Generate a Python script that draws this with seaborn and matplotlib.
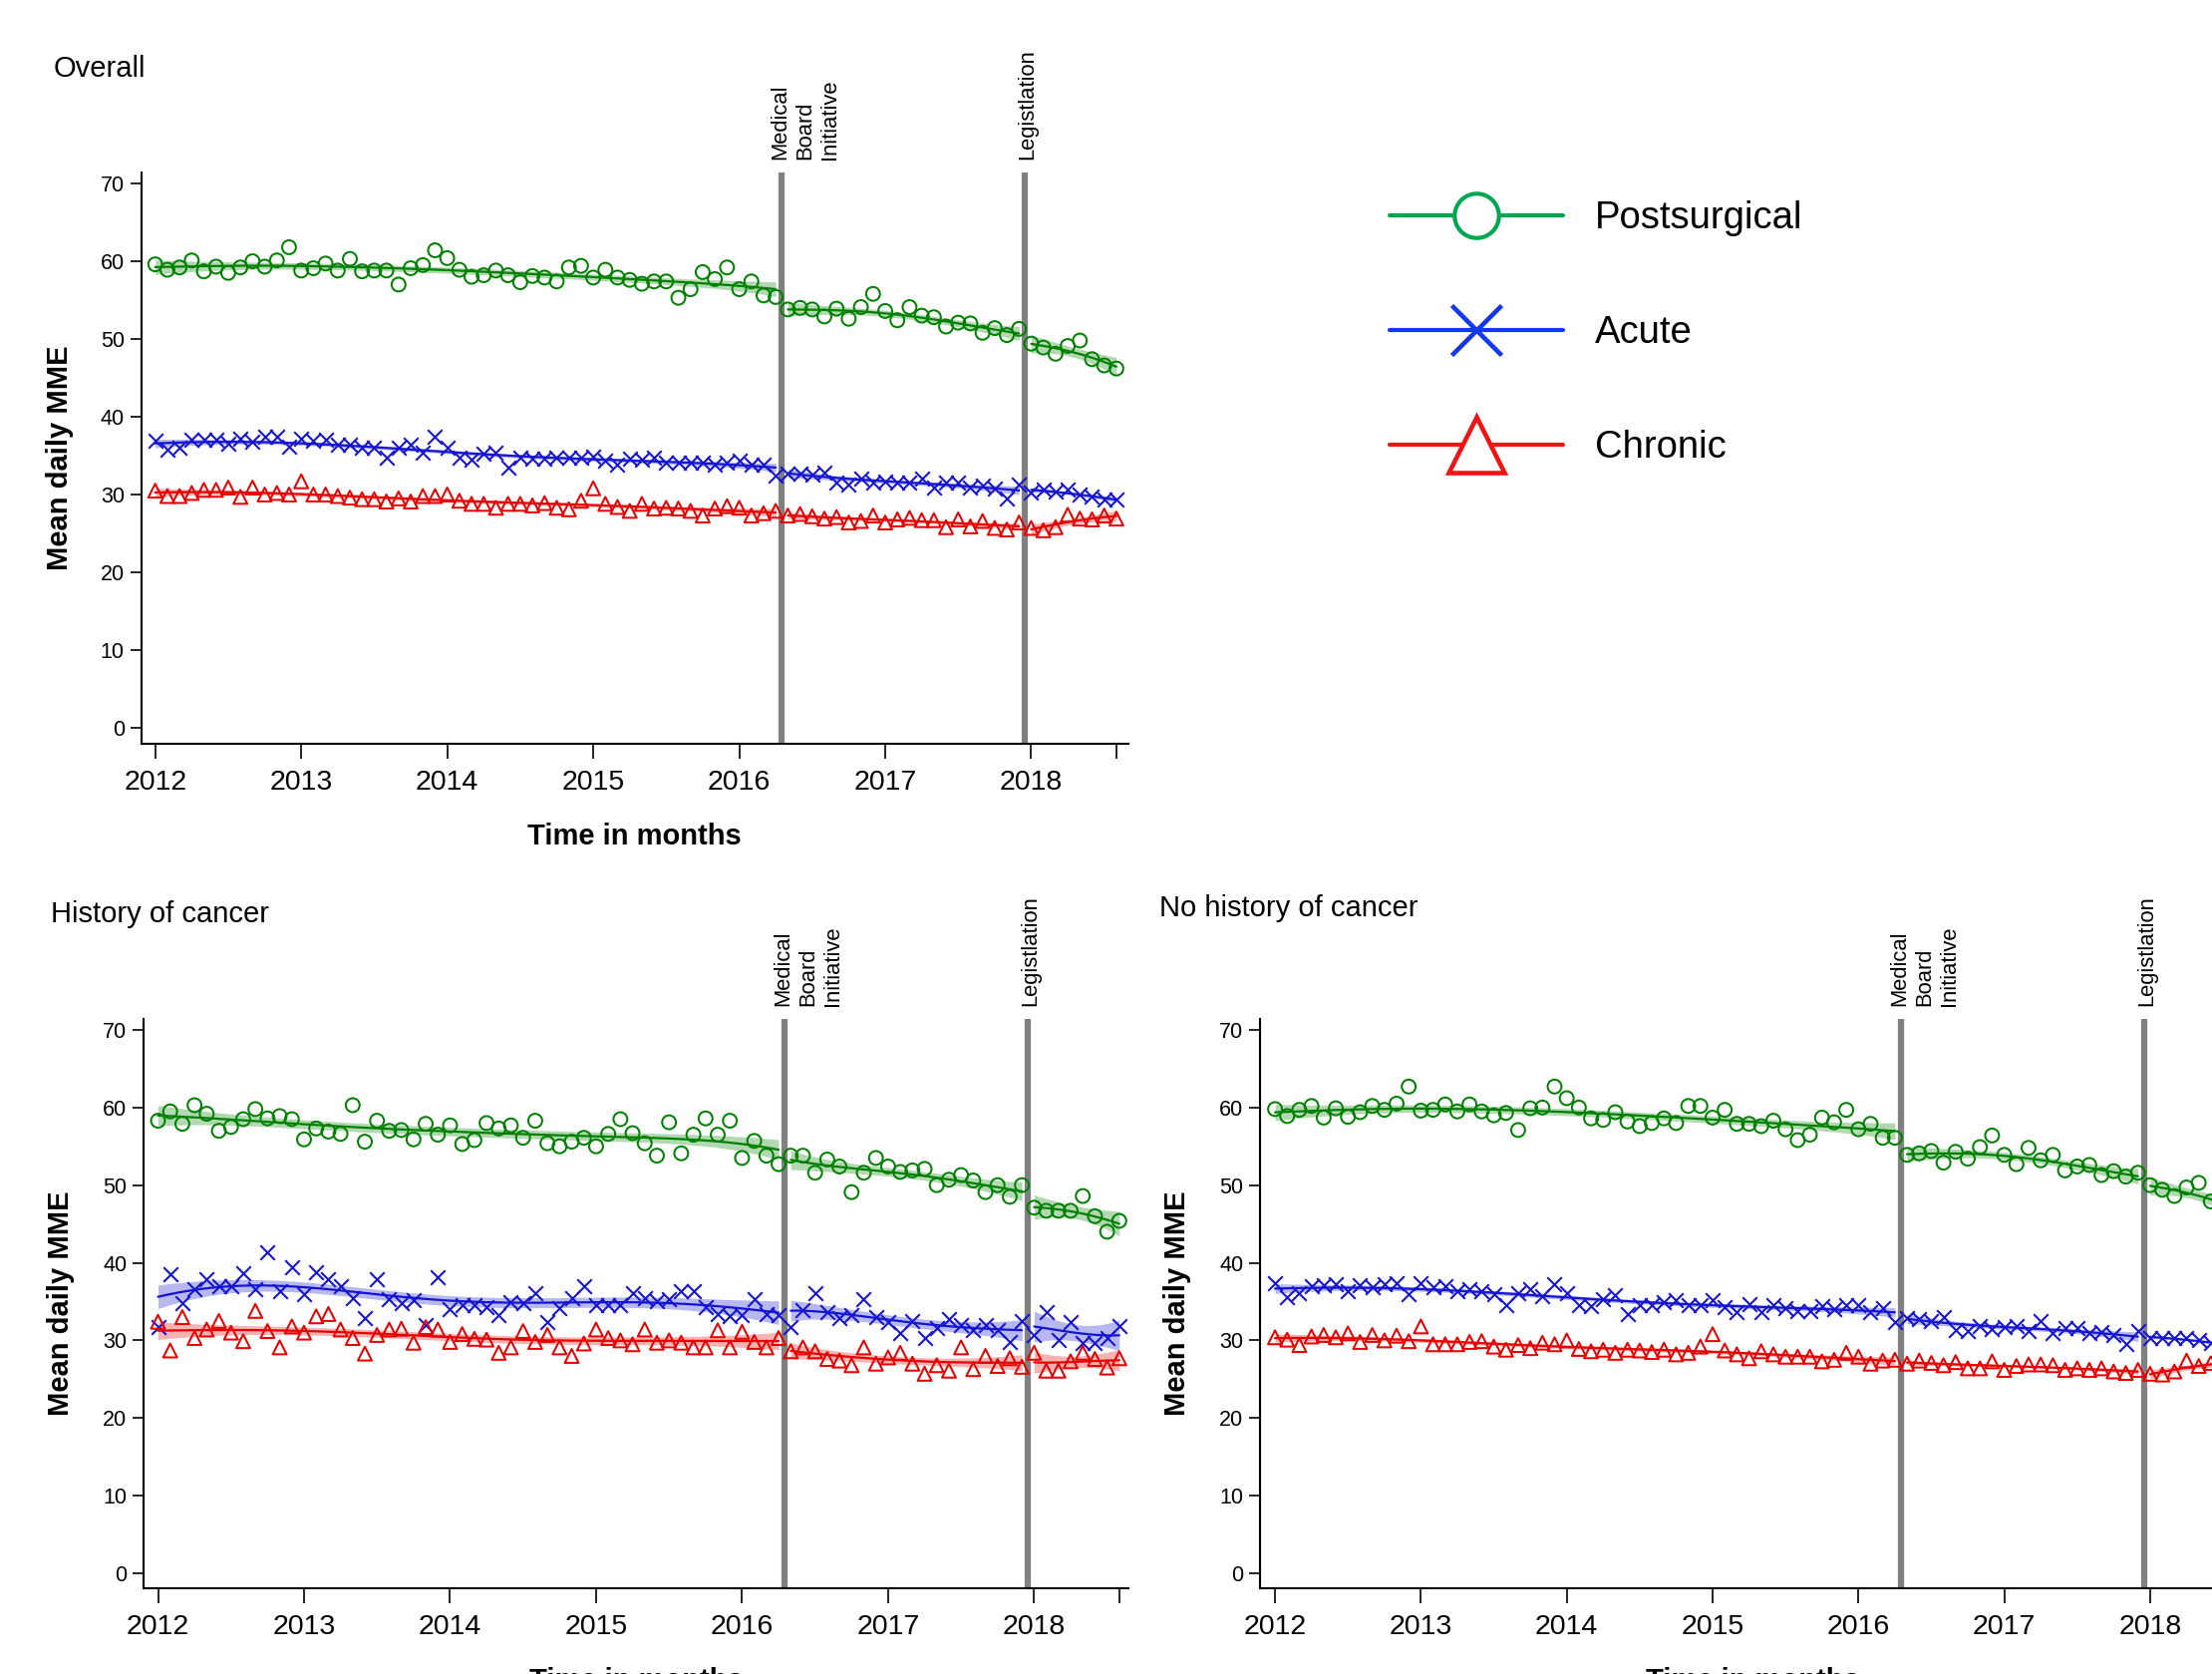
import numpy as np
import seaborn as sns
import matplotlib.pyplot as plt
from matplotlib.lines import Line2D
from matplotlib import transforms

sns.set_style("ticks")
plt.rcParams['font.family'] = ['Liberation Sans', 'DejaVu Sans']
plt.rcParams.update({'text.color': 'black', 'axes.labelcolor': 'black',
                     'xtick.color': 'black', 'ytick.color': 'black',
                     'axes.edgecolor': 'black'})

# ---------------- data (mean daily MME per month, Jan 2012 .. Aug 2018) ----------------
months = np.arange(80)
time = 2012 + months / 12
medical_board = 2012 + 51.5 / 12
legislation = 2012 + 71.5 / 12

overall_post = [59.6, 58.9, 59.2, 60.1, 58.7, 59.3, 58.5, 59.2, 60.0, 59.3,
                60.1, 61.8, 58.8, 59.1, 59.7, 58.8, 60.3, 58.7, 58.8, 58.8,
                57.0, 59.1, 59.5, 61.4, 60.4, 58.9, 58.0, 58.2, 58.8, 58.2,
                57.3, 58.1, 57.9, 57.4, 59.2, 59.4, 57.9, 58.9, 57.9, 57.6,
                57.1, 57.4, 57.4, 55.3, 56.4, 58.6, 57.7, 59.2, 56.4, 57.4,
                55.6, 55.4, 53.8, 54.0, 53.8, 52.9, 53.9, 52.6, 54.1, 55.8,
                53.6, 52.4, 54.1, 53.0, 52.8, 51.6, 52.1, 52.0, 50.8, 51.4,
                50.5, 51.3, 49.4, 48.9, 48.1, 49.1, 49.8, 47.4, 46.6, 46.2]
overall_acute = [36.9, 35.8, 36.0, 37.0, 37.1, 37.1, 36.5, 37.2, 36.8, 37.5,
                 37.4, 36.2, 37.2, 36.9, 37.0, 36.4, 36.4, 36.0, 36.0, 34.7,
                 36.0, 36.4, 35.4, 37.4, 36.0, 34.7, 34.5, 35.2, 35.4, 33.5,
                 34.7, 34.6, 34.6, 34.8, 34.7, 34.7, 34.9, 34.3, 33.8, 34.6,
                 34.5, 34.7, 34.1, 34.1, 34.1, 34.1, 33.9, 34.1, 34.3, 33.8,
                 33.9, 32.4, 32.7, 32.7, 32.6, 32.8, 31.5, 31.3, 32.1, 31.5,
                 31.7, 31.6, 31.5, 32.1, 30.9, 31.6, 31.5, 30.9, 31.1, 30.8,
                 29.5, 31.3, 30.3, 30.6, 30.4, 30.6, 30.0, 29.7, 29.4, 29.4]
overall_chronic = [30.5, 29.8, 29.8, 30.2, 30.6, 30.6, 30.9, 29.7, 30.9, 30.0,
                   30.2, 30.0, 31.7, 30.0, 30.0, 29.8, 29.6, 29.4, 29.4, 29.1,
                   29.5, 29.1, 29.8, 29.8, 30.0, 29.2, 28.8, 28.8, 28.3, 28.8,
                   28.8, 28.6, 28.9, 28.3, 28.1, 29.2, 30.8, 28.8, 28.4, 27.9,
                   28.8, 28.2, 28.3, 28.2, 27.9, 27.3, 28.2, 28.5, 28.3, 27.3,
                   27.6, 27.9, 27.3, 27.5, 27.2, 26.9, 27.1, 26.4, 26.6, 27.3,
                   26.4, 26.8, 27.0, 26.7, 26.7, 25.8, 26.8, 25.9, 26.6, 25.7,
                   25.5, 26.4, 25.7, 25.4, 25.8, 27.4, 26.9, 26.8, 27.3, 26.9]

hist_post = [58.3, 59.5, 57.9, 60.3, 59.2, 57.0, 57.5, 58.5, 59.8, 58.6,
             58.9, 58.5, 55.9, 57.3, 56.9, 56.6, 60.3, 55.6, 58.3, 57.0,
             57.1, 55.9, 57.9, 56.5, 57.7, 55.3, 55.8, 58.0, 57.3, 57.7,
             56.1, 58.3, 55.4, 55.0, 55.6, 56.1, 55.0, 56.6, 58.5, 56.7,
             55.4, 53.8, 58.1, 54.1, 56.5, 58.6, 56.5, 58.3, 53.5, 55.7,
             53.8, 52.7, 53.8, 53.8, 51.6, 53.3, 52.4, 49.1, 51.6, 53.5,
             52.4, 51.7, 51.9, 52.1, 50.0, 50.7, 51.3, 50.6, 49.1, 50.0,
             48.5, 50.0, 47.1, 46.7, 46.7, 46.7, 48.6, 46.0, 44.0, 45.4]
hist_acute = [31.7, 38.5, 34.8, 36.6, 37.9, 37.0, 37.0, 38.6, 36.6, 41.3,
              36.4, 39.4, 36.0, 38.8, 37.9, 37.0, 35.4, 32.9, 37.9, 35.3,
              34.8, 35.2, 32.0, 38.1, 34.0, 34.5, 34.5, 34.3, 33.3, 34.9,
              34.8, 36.1, 32.4, 34.1, 35.5, 37.0, 34.6, 34.6, 34.6, 36.1,
              35.4, 35.1, 35.3, 36.4, 36.4, 34.3, 33.4, 33.1, 33.3, 35.3,
              33.4, 33.3, 31.7, 33.9, 36.1, 33.6, 32.9, 33.3, 35.3, 33.0,
              32.3, 30.9, 32.5, 30.3, 31.6, 32.7, 32.0, 31.4, 32.0, 31.4,
              29.8, 32.5, 30.7, 33.6, 30.1, 32.3, 29.7, 29.7, 30.3, 31.8]
hist_chronic = [32.4, 28.7, 33.0, 30.3, 31.4, 32.5, 31.0, 29.9, 33.8, 31.2,
                29.1, 31.8, 31.0, 33.1, 33.4, 31.4, 30.3, 28.3, 30.7, 31.4,
                31.5, 29.7, 31.7, 31.4, 29.8, 30.8, 30.2, 30.1, 28.4, 29.1,
                31.2, 29.8, 30.7, 29.1, 28.0, 29.6, 31.4, 30.3, 30.0, 29.5,
                31.4, 29.7, 30.0, 29.7, 29.1, 29.1, 31.3, 29.1, 31.1, 29.8,
                29.1, 30.3, 28.6, 29.1, 28.6, 27.6, 27.4, 26.8, 29.1, 27.0,
                27.8, 28.4, 27.0, 25.7, 26.8, 26.1, 29.1, 26.3, 28.0, 26.7,
                27.7, 26.6, 28.4, 26.1, 26.1, 27.3, 28.4, 27.6, 26.5, 27.7]

nohist_post = [59.8, 58.9, 59.7, 60.2, 58.7, 59.9, 58.8, 59.4, 60.2, 59.7,
               60.5, 62.7, 59.6, 59.7, 60.4, 59.5, 60.4, 59.5, 59.0, 59.3,
               57.1, 59.9, 60.0, 62.7, 61.2, 60.0, 58.6, 58.4, 59.4, 58.2,
               57.6, 58.0, 58.6, 58.0, 60.2, 60.2, 58.7, 59.7, 57.9, 57.9,
               57.6, 58.3, 57.2, 55.8, 56.5, 58.7, 58.1, 59.7, 57.2, 57.9,
               56.1, 56.1, 53.9, 54.1, 54.4, 52.9, 54.3, 53.4, 54.9, 56.4,
               53.9, 52.7, 54.8, 53.2, 53.9, 51.9, 52.4, 52.6, 51.3, 51.8,
               51.1, 51.6, 50.0, 49.4, 48.6, 49.7, 50.3, 47.9, 47.3, 46.8]
nohist_acute = [37.4, 35.6, 36.1, 37.0, 37.1, 37.2, 36.4, 37.1, 36.9, 37.2,
                37.4, 36.0, 37.4, 36.8, 37.0, 36.4, 36.6, 36.4, 35.9, 34.6,
                36.1, 36.6, 35.7, 37.3, 36.1, 34.6, 34.4, 35.3, 35.8, 33.4,
                34.6, 34.5, 34.9, 35.2, 34.6, 34.6, 35.2, 34.3, 33.7, 34.7,
                33.7, 34.6, 34.1, 33.8, 33.8, 34.4, 34.0, 34.5, 34.6, 33.7,
                34.2, 32.3, 32.9, 32.7, 32.5, 33.0, 31.4, 31.2, 31.8, 31.5,
                31.7, 31.8, 31.2, 32.5, 31.0, 31.6, 31.6, 31.0, 31.1, 30.7,
                29.5, 31.2, 30.3, 30.3, 30.3, 30.3, 30.1, 29.7, 29.4, 29.3]
nohist_chronic = [30.4, 30.1, 29.4, 30.5, 30.7, 30.4, 30.9, 29.8, 30.7, 30.0,
                  30.6, 29.9, 31.8, 29.5, 29.5, 29.5, 29.8, 29.9, 29.2, 28.8,
                  29.4, 29.0, 29.7, 29.5, 30.0, 28.9, 28.6, 28.8, 28.4, 28.8,
                  28.7, 28.5, 28.8, 28.2, 28.4, 29.2, 30.8, 28.7, 28.2, 27.7,
                  28.6, 28.2, 27.9, 27.9, 27.9, 27.3, 27.5, 28.4, 27.9, 27.0,
                  27.4, 27.5, 27.0, 27.4, 27.1, 26.8, 27.2, 26.4, 26.4, 27.3,
                  26.2, 26.7, 26.9, 26.9, 26.8, 26.2, 26.4, 26.2, 26.4, 26.0,
                  25.8, 26.2, 25.7, 25.6, 26.0, 27.4, 26.7, 27.1, 27.0, 27.0]

series_names = ['Postsurgical', 'Acute', 'Chronic']
colors = ['#008000', '#1414d2', '#e60000']
legend_colors = ['#00a651', '#1238ee', '#f01414']

W, H = 2219, 1679
fig = plt.figure(figsize=(W / 100, H / 100), dpi=100)


def local_linear(m, y, bw):
    # local linear smoother (gaussian kernel) with a 95% band
    m = np.asarray(m, float)
    y = np.asarray(y, float)

    def row(g):
        w = np.exp(-0.5 * ((m - g) / bw) ** 2)
        X = np.column_stack([np.ones_like(m), m - g])
        XtW = X.T * w
        return np.linalg.solve(XtW @ X, XtW)[0]

    L = np.array([row(g) for g in m])
    res = y - L @ y
    dof = len(m) - 2 * np.trace(L) + np.trace(L.T @ L)
    s2 = res @ res / dof
    grid = np.linspace(m.min(), m.max(), 60)
    G = np.array([row(g) for g in grid])
    fit = G @ y
    se = np.sqrt(s2 * (G ** 2).sum(1))
    return grid, fit, fit - 1.96 * se, fit + 1.96 * se


def make_axes(left, right, top, bottom):
    return fig.add_axes([left / W, 1 - bottom / H, (right - left) / W, (bottom - top) / H])


def draw_panel(ax, data, xlim, ylim, ylab_px, axes_w_px, axes_h_px):
    ax.axvline(medical_board, color='#808080', lw=4.5, zorder=1)
    ax.axvline(legislation, color='#808080', lw=4.5, zorder=1)

    for vals, col, mk in zip(data, colors, ['o', 'x', '^']):
        vals = np.asarray(vals)
        if mk == 'x':
            sns.scatterplot(x=time, y=vals, ax=ax, marker='x', s=110, color=col,
                            linewidth=1.5, zorder=3)
        else:
            sns.scatterplot(x=time, y=vals, ax=ax, marker=mk, s=100, color=col,
                            facecolor='none', edgecolor=col, linewidth=1.45, zorder=3)
        for seg, bw in [((months < 51.5), 7), ((months > 51.5) & (months < 71.5), 5),
                        ((months > 71.5), 3.5)]:
            g, fit, lo, hi = local_linear(months[seg], vals[seg], bw)
            gx = 2012 + g / 12
            ax.fill_between(gx, lo, hi, color=col, alpha=0.3, lw=0, zorder=2)
            sns.lineplot(x=gx, y=fit, ax=ax, color=col, lw=1.6, zorder=4)

    ax.set_xlim(*xlim)
    ax.set_ylim(*ylim)
    ax.set_yticks(range(0, 71, 10))
    ax.set_xticks(list(range(2012, 2019)) + [time[-1]])
    ax.set_xticklabels([str(y) for y in range(2012, 2019)] + [''])
    ax.tick_params(axis='x', labelsize=20.5, length=11, width=1.2, pad=8)
    ax.tick_params(axis='y', labelsize=15.5, length=8, width=1.2, pad=4)
    for s in ['top', 'right']:
        ax.spines[s].set_visible(False)
    for s in ['left', 'bottom']:
        ax.spines[s].set_linewidth(1.5)

    ax.set_ylabel('Mean daily MME', fontsize=21, fontweight='bold', va='center')
    ax.yaxis.set_label_coords(-ylab_px / axes_w_px, 0.5)
    ax.set_xlabel('Time in months', fontsize=21, fontweight='bold', va='center')
    ax.xaxis.set_label_coords(0.5, -93 / axes_h_px)

    base = ax.get_xaxis_transform()
    tr1 = transforms.offset_copy(base, fig=fig, x=-12, y=13, units='dots')
    tr2 = transforms.offset_copy(base, fig=fig, x=-8, y=13, units='dots')
    ax.text(medical_board, 1.0, 'Medical\nBoard\nInitiative', transform=tr1, rotation=90,
            rotation_mode='anchor', ha='left', va='top', fontsize=15.8, linespacing=1.25)
    ax.text(legislation, 1.0, 'Legistlation', transform=tr2, rotation=90,
            rotation_mode='anchor', ha='left', va='top', fontsize=15.8)


# ---------------- Overall ----------------
ax1 = make_axes(141.5, 1132, 173, 746)
draw_panel(ax1, [overall_post, overall_acute, overall_chronic],
           (2011.903, 2018.666), (-2.05, 71.41), 82, 990.5, 573)
fig.text(54 / W, 1 - 69 / H, 'Overall', fontsize=21, va='center', ha='left')

# ---------------- History of cancer ----------------
ax2 = make_axes(144, 1132, 1022, 1593)
draw_panel(ax2, [hist_post, hist_acute, hist_chronic],
           (2011.901, 2018.646), (-1.93, 71.41), 83, 988, 571)
fig.text(51 / W, 1 - 917 / H, 'History of cancer', fontsize=21, va='center', ha='left')

# ---------------- No history of cancer (runs past the right edge) ----------------
ax3 = make_axes(1264, 2252, 1022, 1593)
draw_panel(ax3, [nohist_post, nohist_acute, nohist_chronic],
           (2011.897, 2018.65), (-1.93, 71.41), 83, 988, 571)
fig.text(1163 / W, 1 - 911 / H, 'No history of cancer', fontsize=21, va='center', ha='left')

# ---------------- legend ----------------
handles = [
    Line2D([0], [0], color=legend_colors[0], lw=3, marker='o', ms=32, mfc='white', mew=3),
    Line2D([0], [0], color=legend_colors[1], lw=3, marker='x', ms=36, mew=3.3),
    Line2D([0], [0], color=legend_colors[2], lw=3, marker='^', ms=40, mfc='white', mew=3.3),
]
fig.legend(handles, series_names, loc='center left', bbox_to_anchor=(1394 / W, 1 - 334 / H),
           frameon=False, fontsize=27.5, handlelength=4.55, handletextpad=0.85,
           labelspacing=2.07, borderpad=0, borderaxespad=0)

fig.savefig('out.png', dpi=100)
